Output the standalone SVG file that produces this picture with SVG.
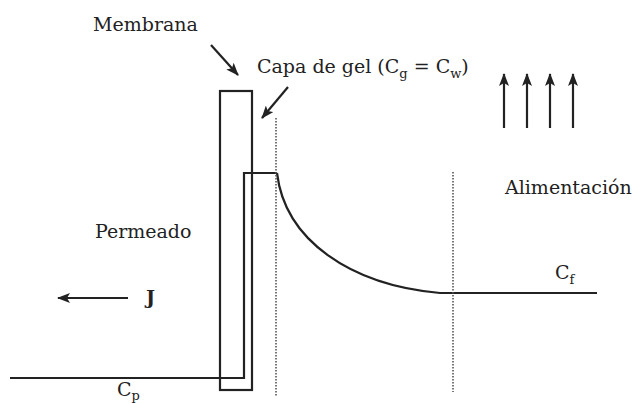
<svg xmlns="http://www.w3.org/2000/svg" width="633" height="403" viewBox="0 0 633 403">
<style>
text{font-family:"DejaVu Serif",serif;fill:#222;font-size:19px}
.sub{font-size:13px}
.ln{fill:none;stroke:#222;stroke-width:2.2}
.dot{fill:none;stroke:#555;stroke-width:1.6;stroke-dasharray:1.5 1.5}
</style>
<defs>
<marker id="ah" markerWidth="13" markerHeight="10" refX="12" refY="5" orient="auto" markerUnits="userSpaceOnUse">
<path d="M0,0 L13,5 L0,10 L3,5 Z" fill="#222"/>
</marker>
</defs>
<rect width="633" height="403" fill="#fff"/>
<g id="membrana">
<rect x="220" y="91" width="32" height="299" class="ln"/>
<text x="93" y="31">Membrana</text>
</g>
<g id="capa-gel">
<path d="M10,378 H244 V173 H277" class="ln"/>
<text x="257" y="73">Capa de gel (C<tspan class="sub" dy="5">g</tspan><tspan dy="-5"> = C</tspan><tspan class="sub" dy="5">w</tspan><tspan dy="-5">)</tspan></text>
</g>
<g id="perfil">
<path d="M277,173 C285,240 350,285 440,293 H597" class="ln"/>
</g>
<g id="limites">
<line x1="276" y1="118" x2="276" y2="397" class="dot"/>
<line x1="453" y1="172" x2="453" y2="392" class="dot"/>
</g>
<g id="alimentacion">
<text x="505" y="194">Alimentación</text>
</g>
<g id="permeado">
<text x="95" y="238">Permeado</text>
<text x="146" y="304" font-weight="bold" font-size="18">J</text>
</g>
<g id="cf"><text x="555" y="279">C<tspan class="sub" dy="5">f</tspan></text></g>
<g id="cp"><text x="117" y="396">C<tspan class="sub" dy="4">p</tspan></text></g>
<g id="connectors">
<line x1="211" y1="45" x2="238" y2="75" class="ln" marker-end="url(#ah)"/>
<line x1="288" y1="87" x2="262" y2="118" class="ln" marker-end="url(#ah)"/>
<line x1="128" y1="298" x2="58" y2="298" class="ln" marker-end="url(#ah)"/>
<line x1="504" y1="128" x2="504" y2="74" class="ln" marker-end="url(#ah)"/>
<line x1="527" y1="128" x2="527" y2="74" class="ln" marker-end="url(#ah)"/>
<line x1="550" y1="128" x2="550" y2="74" class="ln" marker-end="url(#ah)"/>
<line x1="573" y1="128" x2="573" y2="74" class="ln" marker-end="url(#ah)"/>
</g>
</svg>
